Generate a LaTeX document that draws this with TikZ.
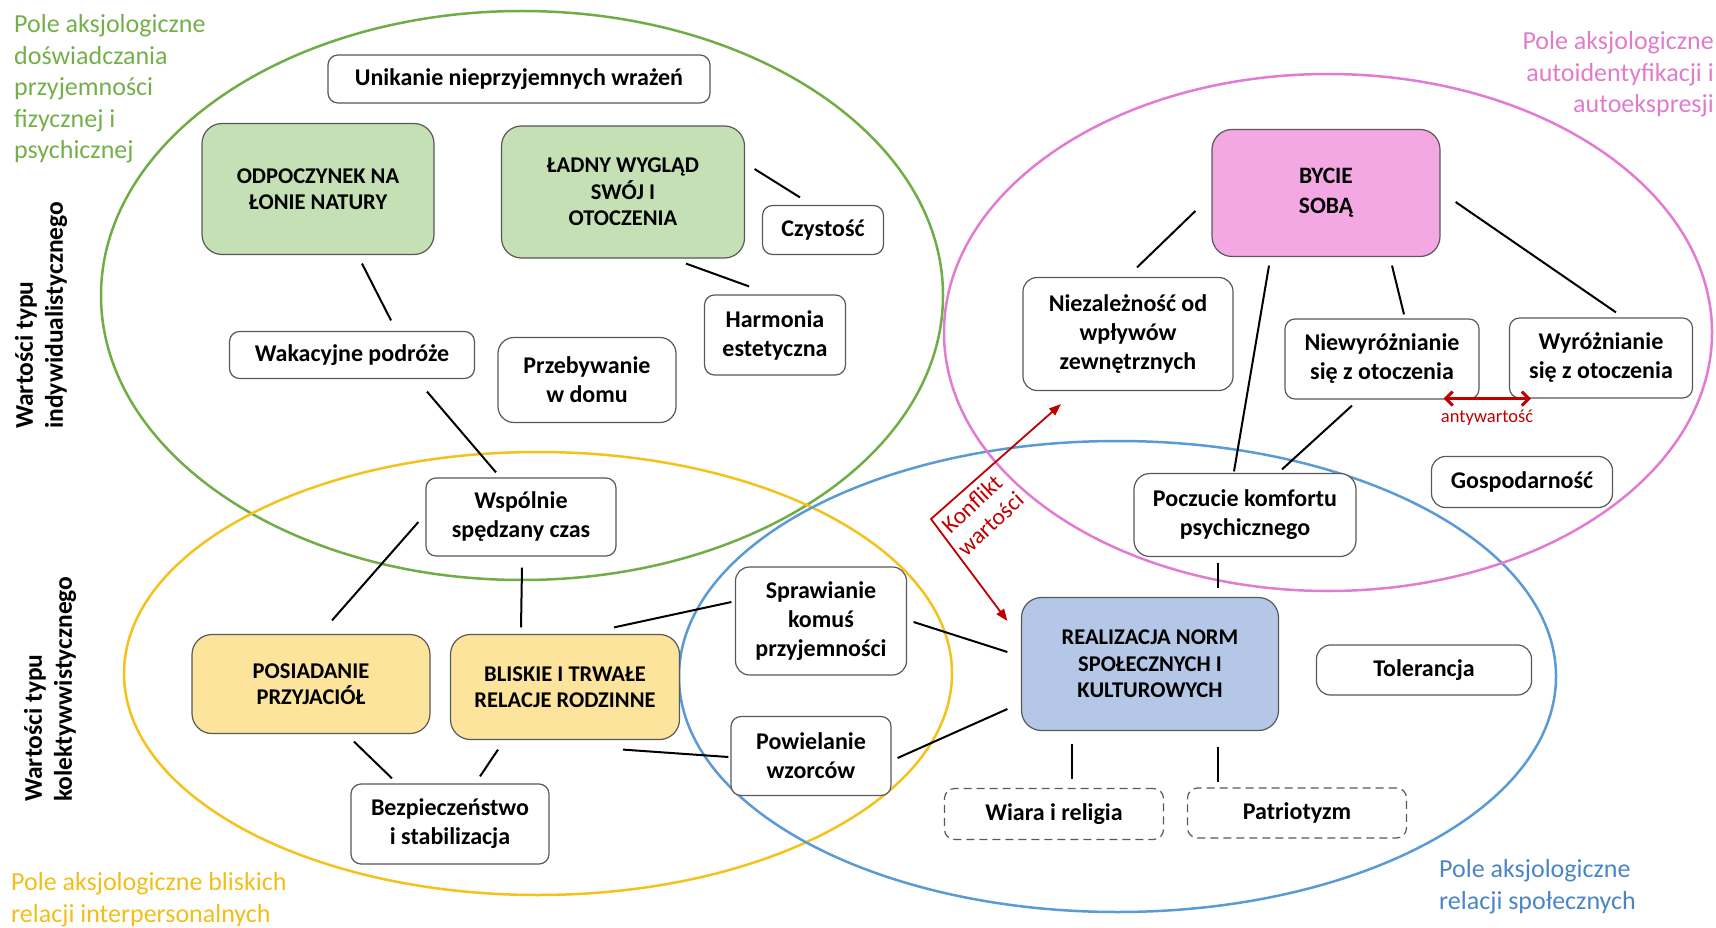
\documentclass[tikz,border=0pt]{standalone}
\usepackage{fontspec}
\setmainfont{Carlito}
\usetikzlibrary{arrows.meta,calc}
\definecolor{gline}{HTML}{70AD47}
\definecolor{gtext}{HTML}{74B04A}
\definecolor{yline}{HTML}{F5C21B}
\definecolor{ytext}{HTML}{F2BE1A}
\definecolor{bline}{HTML}{5B9BD5}
\definecolor{btext}{HTML}{4A86C6}
\definecolor{pline}{HTML}{E27BD2}
\definecolor{ptext}{HTML}{E07CCB}
\definecolor{gfill}{HTML}{C5E0B4}
\definecolor{yfill}{HTML}{FDE49C}
\definecolor{bfill}{HTML}{B4C7E7}
\definecolor{pfill}{HTML}{F3A7E3}
\definecolor{boxgray}{HTML}{595959}
\definecolor{dred}{HTML}{C00000}
\begin{document}
\begin{tikzpicture}[x=1pt,y=-1pt,
  vbox/.style={draw=boxgray, line width=1.2pt, rounded corners=10pt, fill=white, align=center, inner sep=0pt, text=black, font=\bfseries\fontsize{24}{29}\selectfont},
  cbox/.style={vbox, rounded corners=20pt, font=\bfseries\fontsize{22.5}{26.5}\selectfont},
  dbox/.style={vbox, dash pattern=on 8pt off 5pt},
  field/.style={line width=2.5pt},
  fieldlabel/.style={inner sep=0pt, font=\fontsize{26}{31.5}\selectfont},
  sidelabel/.style={inner sep=0pt, rotate=90, align=left, anchor=west, font=\bfseries\fontsize{25.5}{30}\selectfont},
  link/.style={line width=2pt, black},
  conf/.style={line width=1.8pt, dred, {Triangle[length=12pt,width=9pt]}-{Triangle[length=12pt,width=9pt]}},
  anti/.style={line width=3pt, dred, {Straight Barb[length=7pt,width=14pt]}-{Straight Barb[length=7pt,width=14pt]}},
  redlabel/.style={inner sep=0pt, text=dred, align=center}
]
\useasboundingbox (0,0) rectangle (1716,928);
\fill[white] (0,0) rectangle (1716,928);

% fields
\draw[field, gline] (522,295.5) ellipse [x radius=421pt, y radius=284.5pt];
\draw[field, yline] (538,673.5) ellipse [x radius=414pt, y radius=221.5pt];
\draw[field, bline] (1117.5,676.5) ellipse [x radius=438.5pt, y radius=235.5pt];
\draw[field, pline] (1328,332.5) ellipse [x radius=384pt, y radius=258.5pt];

% field labels
\node[fieldlabel, text=gtext, align=left, anchor=north west] (lgreen) at (14,14.5) {Pole aksjologiczne\\doświadczania\\przyjemności\\fizycznej i\\psychicznej};
\node[fieldlabel, text=ptext, align=right, anchor=north east] (lpink) at (1714,31.5) {Pole aksjologiczne\\autoidentyfikacji i\\autoekspresji};
\node[fieldlabel, text=ytext, align=left, anchor=north west] (lyellow) at (11,872.5) {Pole aksjologiczne bliskich\\relacji interpersonalnych};
\node[fieldlabel, text=btext, align=left, anchor=north west] (lblue) at (1439,859.5) {Pole aksjologiczne\\relacji społecznych};

% side labels
\node[sidelabel] (sind) at (41,429) {Wartości typu\\indywidualistycznego};
\node[sidelabel] (skol) at (50,802) {Wartości typu\\kolektywwistycznego};

% nodes
\node[vbox, minimum width=382pt, minimum height=48pt] (unik) at (519,79) {Unikanie nieprzyjemnych wrażeń};
\node[cbox, fill=gfill, minimum width=232pt, minimum height=131pt] (odp) at (318,189) {ODPOCZYNEK NA\\ŁONIE NATURY};
\node[cbox, fill=gfill, minimum width=243pt, minimum height=132pt] (lad) at (623,192) {ŁADNY WYGLĄD\\SWÓJ I\\OTOCZENIA};
\node[vbox, minimum width=121pt, minimum height=49pt] (czy) at (823,230) {Czystość};
\node[vbox, minimum width=141pt, minimum height=80pt] (harm) at (775,335) {Harmonia\\estetyczna};
\node[vbox, minimum width=245pt, minimum height=47pt] (wak) at (352,355) {Wakacyjne podróże};
\node[vbox, rounded corners=16pt, minimum width=178pt, minimum height=85pt] (dom) at (587,380) {Przebywanie\\w domu};
\node[vbox, minimum width=190pt, minimum height=78pt] (wsp) at (521,517) {Wspólnie\\spędzany czas};
\node[cbox, fill=yfill, minimum width=238pt, minimum height=99pt] (pos) at (311,684) {POSIADANIE\\PRZYJACIÓŁ};
\node[cbox, fill=yfill, minimum width=229pt, minimum height=105pt] (bli) at (565,687) {BLISKIE I TRWAŁE\\RELACJE RODZINNE};
\node[vbox, minimum width=198pt, minimum height=80pt] (bez) at (450,824) {Bezpieczeństwo\\i stabilizacja};
\node[vbox, rounded corners=14pt, minimum width=171pt, minimum height=108pt] (spr) at (821,621) {Sprawianie\\komuś\\przyjemności};
\node[vbox, minimum width=160pt, minimum height=79pt] (pow) at (811,756) {Powielanie\\wzorców};
\node[cbox, fill=bfill, minimum width=257pt, minimum height=133pt] (real) at (1150,664) {REALIZACJA NORM\\SPOŁECZNYCH I\\KULTUROWYCH};
\node[vbox, rounded corners=14pt, minimum width=215pt, minimum height=50pt] (tol) at (1424,670) {Tolerancja};
\node[dbox, minimum width=219pt, minimum height=51pt] (wia) at (1054,814) {Wiara i religia};
\node[dbox, minimum width=219pt, minimum height=50pt] (pat) at (1297,813) {Patriotyzm};
\node[vbox, rounded corners=16pt, minimum width=222pt, minimum height=83pt] (pocz) at (1245,515) {Poczucie komfortu\\psychicznego};
\node[vbox, rounded corners=14pt, minimum width=181pt, minimum height=51pt] (gosp) at (1522,482) {Gospodarność};
\node[cbox, fill=pfill, minimum width=228pt, minimum height=127pt, font=\bfseries\fontsize{23.5}{30}\selectfont] (byc) at (1326,193) {BYCIE\\SOBĄ};
\node[vbox, rounded corners=14pt, minimum width=210pt, minimum height=113pt] (niez) at (1128,334) {Niezależność od\\wpływów\\zewnętrznych};
\node[vbox, minimum width=194pt, minimum height=80pt] (niew) at (1382,359) {Niewyróżnianie\\się z otoczenia};
\node[vbox, minimum width=183pt, minimum height=80pt] (wyr) at (1601,358) {Wyróżnianie\\się z otoczenia};

% connectors
\draw[link] ([shift={(44,8.5)}]odp.south) -- ([shift={(39,-10.5)}]wak.north);
\draw[link] ([shift={(75,12.5)}]wak.south) -- ([shift={(-25,-5)}]wsp.north);
\draw[link] ([shift={(9.5,-23)}]lad.east) -- ([shift={(-23,-7.5)}]czy.north);
\draw[link] ([shift={(63,5)}]lad.south) -- ([shift={(-26,-8)}]harm.north);
\draw[link] ([shift={(-7,5)}]wsp.west) -- ([shift={(21,-13.5)}]pos.north);
\draw[link] ([shift={(1,11)}]wsp.south) -- ([shift={(-44,-6.5)}]bli.north);
\draw[link] ([shift={(49,-6.5)}]bli.north) -- ([shift={(-3.5,-19)}]spr.west);
\draw[link] ([shift={(58,9.5)}]bli.south) -- ([shift={(-2,1)}]pow.west);
\draw[link] ([shift={(43,7.5)}]pos.south) -- ([shift={(-58,-5)}]bez.north);
\draw[link] ([shift={(-67,9.5)}]bli.south) -- ([shift={(30,-7)}]bez.north);
\draw[link] ([shift={(6.5,1)}]spr.east) -- ([shift={(-13.5,-12)}]real.west);
\draw[link] ([shift={(6,2)}]pow.east) -- ([shift={(-13.5,45)}]real.west);
\draw[link] ([shift={(-78,12.5)}]real.south) -- ([shift={(18,-8.5)}]wia.north);
\draw[link] ([shift={(68,15.5)}]real.south) -- ([shift={(-79,-5)}]pat.north);
\draw[link] ([shift={(-27,5.5)}]pocz.south) -- ([shift={(68,-8.5)}]real.north);
\draw[link] ([shift={(-57,8.5)}]byc.south) -- ([shift={(-11,-1.5)}]pocz.north);
\draw[link] ([shift={(-30,6)}]niew.south) -- ([shift={(37,-3.5)}]pocz.north);
\draw[link] ([shift={(-16,18)}]byc.west) -- ([shift={(9,-9.5)}]niez.north);
\draw[link] ([shift={(66,8.5)}]byc.south) -- ([shift={(22,-4)}]niew.north);
\draw[link] ([shift={(15,9)}]byc.east) -- ([shift={(15,-5)}]wyr.north);

% red arrows
\coordinate (konfmid) at (931,519);
\draw[conf] ([shift={(-67,13)}]niez.south) -- (konfmid) -- ([shift={(-13.5,-43)}]real.west);
\node[redlabel, rotate=43, font=\fontsize{23.5}{27}\selectfont] (konflbl) at (981,514) {Konflikt\\wartości};
\draw[anti] ([shift={(-36,-1)}]niew.south east) -- ([shift={(22,0)}]wyr.south west);
\node[redlabel, font=\fontsize{18.5}{22}\selectfont] (antylbl) at (1487,418) {antywartość};
\end{tikzpicture}
\end{document}
